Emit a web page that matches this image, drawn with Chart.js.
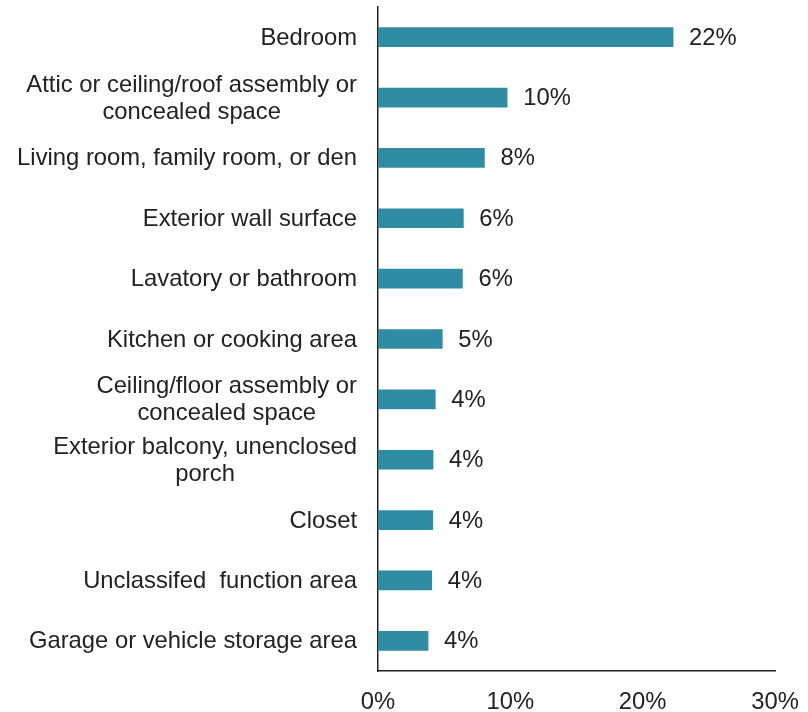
<!DOCTYPE html>
<html>
<head>
<meta charset="utf-8">
<script src="https://cdn.jsdelivr.net/npm/chart.js@4"></script>
<style>
  html, body { margin: 0; padding: 0; background: #fff; }
  #wrap { width: 808px; height: 712px; position: relative; }
</style>
</head>
<body>
<div id="wrap"><canvas id="areaChart"></canvas></div>
<script>
// area of fire origin, share of fires
const areas = [
    'Bedroom',
    ['Attic or ceiling/roof assembly or', 'concealed space'],
    'Living room, family room, or den',
    'Exterior wall surface',
    'Lavatory or bathroom',
    'Kitchen or cooking area',
    ['Ceiling/floor assembly or', 'concealed space'],
    ['Exterior balcony, unenclosed', 'porch'],
    'Closet',
    'Unclassifed  function area',
    'Garage or vehicle storage area'
];
const shares = [22.3, 9.76, 8.04, 6.45, 6.38, 4.86, 4.33, 4.16, 4.14, 4.06, 3.78];
const xTicks = [0, 10, 20, 30];

const FONT = '"Liberation Sans", Arial, sans-serif';
const FONT_SIZE = 23.8;
const TEXT = '#222';

// category names: right-aligned block, lines centred inside it
const areaLabels = {
    id: 'areaLabels',
    afterDraw(chart) {
        const ctx = chart.ctx;
        const y = chart.scales.y;
        ctx.save();
        ctx.font = FONT_SIZE + 'px ' + FONT;
        ctx.fillStyle = TEXT;
        ctx.textAlign = 'center';
        ctx.textBaseline = 'middle';
        const right = chart.chartArea.left - 21;
        const lineH = 27;
        areas.forEach((lab, i) => {
            const lines = Array.isArray(lab) ? lab : [lab];
            const w = Math.max(...lines.map(l => ctx.measureText(l).width));
            const cx = right - w / 2;
            const cy = y.getPixelForValue(i) + 1;
            lines.forEach((l, k) => {
                ctx.fillText(l, cx, cy + (k - (lines.length - 1) / 2) * lineH);
            });
        });
        ctx.restore();
    }
};

// percentage at the end of each bar
const valueLabels = {
    id: 'valueLabels',
    afterDatasetsDraw(chart) {
        const ctx = chart.ctx;
        const meta = chart.getDatasetMeta(0);
        ctx.save();
        ctx.font = FONT_SIZE + 'px ' + FONT;
        ctx.fillStyle = TEXT;
        ctx.textAlign = 'left';
        ctx.textBaseline = 'middle';
        meta.data.forEach((bar, i) => {
            ctx.fillText(Math.round(shares[i]) + '%', bar.x + 16, bar.y + 1);
        });
        ctx.restore();
    }
};

new Chart(document.getElementById('areaChart'), {
    type: 'bar',
    data: {
        labels: areas,
        datasets: [{
            data: shares,
            backgroundColor: '#2F8CA3',
            borderWidth: 0,
            barThickness: 19
        }]
    },
    options: {
        indexAxis: 'y',
        responsive: true,
        maintainAspectRatio: false,
        animation: false,
        layout: { padding: { top: 7, right: 33, left: 0, bottom: 0 } },
        plugins: {
            legend: { display: false },
            tooltip: { enabled: false }
        },
        scales: {
            x: {
                min: 0,
                max: 30,
                afterBuildTicks(scale) {
                    scale.ticks = xTicks.map(v => ({ value: v }));
                },
                afterFit(scale) {
                    scale.height = 41;
                    scale.paddingLeft = 0;
                    scale.paddingRight = 0;
                },
                grid: { display: false, drawTicks: false },
                border: { display: true, color: '#222', width: 1.5 },
                ticks: {
                    padding: 17,
                    color: TEXT,
                    font: { family: FONT, size: FONT_SIZE },
                    callback: v => v + '%'
                }
            },
            y: {
                afterFit(scale) { scale.width = 378; },
                grid: { display: false, drawTicks: false },
                border: { display: true, color: '#222', width: 1.5 },
                ticks: { display: false }
            }
        }
    },
    plugins: [areaLabels, valueLabels]
});
</script>
</body>
</html>
